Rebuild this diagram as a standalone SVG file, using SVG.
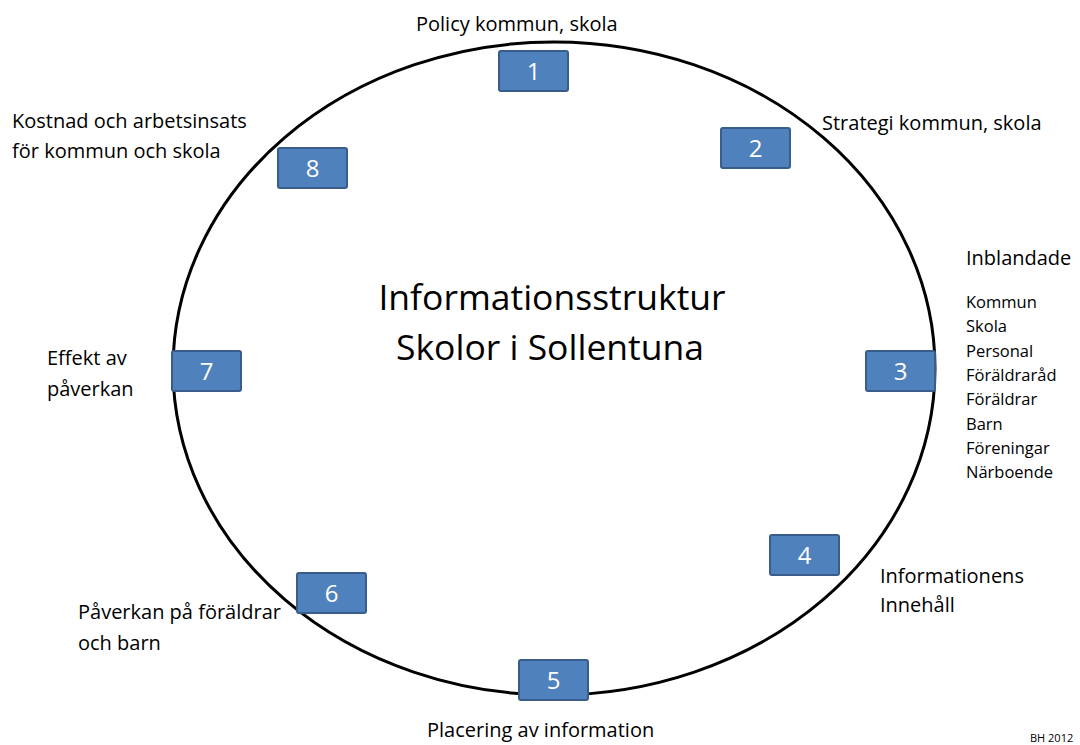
<svg xmlns="http://www.w3.org/2000/svg" width="1080" height="745" viewBox="0 0 1080 745">
<style>
text{font-family:"Open Sans","Liberation Sans",sans-serif;fill:#000}
.l{font-size:20px}
.s{font-size:16.5px}
.c{font-size:35.5px;text-anchor:middle}
.n{font-size:24px;fill:#fff;text-anchor:middle}
.box{fill:#4F81BD;stroke:#385D8A;stroke-width:2}
</style>
<rect width="1080" height="745" fill="#fff"/>
<g id="connectors">
<ellipse cx="554" cy="368.5" rx="381" ry="326.5" fill="none" stroke="#000" stroke-width="3"/>
</g>
<g id="center">
<text class="c" x="552" y="310">Informationsstruktur</text>
<text class="c" x="550" y="360">Skolor i Sollentuna</text>
</g>
<g id="n1"><rect class="box" x="499" y="51" width="69" height="40" rx="2"/><text class="n" x="533.5" y="80">1</text><text class="l" x="416" y="31">Policy kommun, skola</text></g>
<g id="n2"><rect class="box" x="721" y="128" width="69" height="40" rx="2"/><text class="n" x="755.5" y="157">2</text><text class="l" x="822" y="130">Strategi kommun, skola</text></g>
<g id="n3"><rect class="box" x="866" y="351" width="69" height="40" rx="2"/><text class="n" x="900.5" y="380">3</text>
<text class="l" x="966" y="265">Inblandade</text>
<text class="s" x="966" y="308">Kommun</text>
<text class="s" x="966" y="332">Skola</text>
<text class="s" x="966" y="357">Personal</text>
<text class="s" x="966" y="381">Föräldraråd</text>
<text class="s" x="966" y="405">Föräldrar</text>
<text class="s" x="966" y="430">Barn</text>
<text class="s" x="966" y="454">Föreningar</text>
<text class="s" x="966" y="478">Närboende</text></g>
<g id="n4"><rect class="box" x="770" y="535" width="69" height="40" rx="2"/><text class="n" x="804.5" y="564">4</text><text class="l" x="880" y="583">Informationens</text><text class="l" x="880" y="612">Innehåll</text></g>
<g id="n5"><rect class="box" x="519" y="660" width="69" height="40" rx="2"/><text class="n" x="553.5" y="689">5</text><text class="l" x="427" y="737">Placering av information</text></g>
<g id="n6"><rect class="box" x="297" y="573" width="69" height="40" rx="2"/><text class="n" x="331.5" y="602">6</text><text class="l" x="78" y="619">Påverkan på föräldrar</text><text class="l" x="78" y="650">och barn</text></g>
<g id="n7"><rect class="box" x="172" y="351" width="69" height="40" rx="2"/><text class="n" x="206.5" y="380">7</text><text class="l" x="47" y="365">Effekt av</text><text class="l" x="47" y="396">påverkan</text></g>
<g id="n8"><rect class="box" x="278" y="148" width="69" height="40" rx="2"/><text class="n" x="312.5" y="177">8</text><text class="l" x="12" y="128">Kostnad och arbetsinsats</text><text class="l" x="12" y="158">för kommun och skola</text></g>
<text x="1030" y="742" style="font-size:11px">BH 2012</text>
</svg>
